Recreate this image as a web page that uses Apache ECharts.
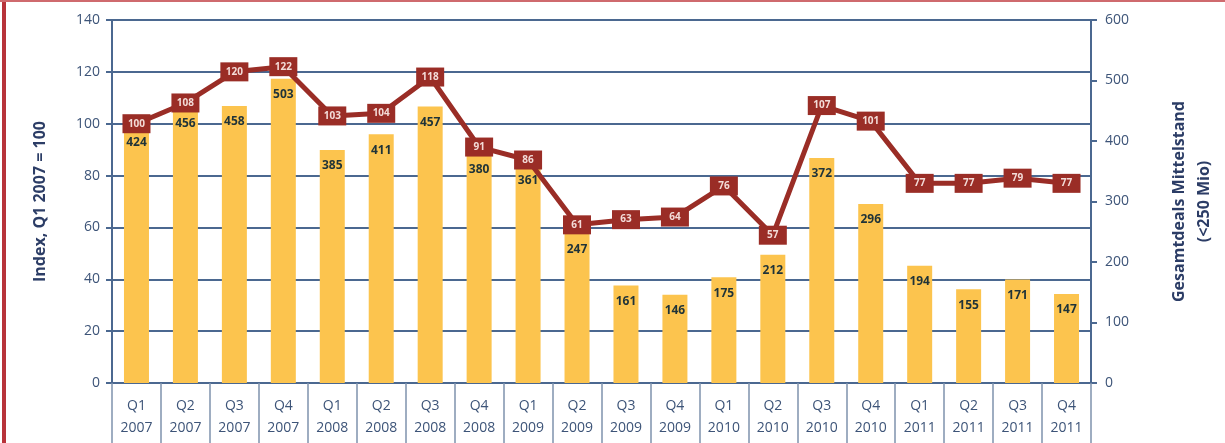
<!DOCTYPE html>
<html lang="de">
<head>
    <meta charset="UTF-8" />
    <title>Index Mittelstand</title>
    <script src="https://cdn.jsdelivr.net/npm/echarts@6/dist/echarts.min.js"></script>
    <style>
        html, body { margin: 0; padding: 0; background: #fff; }
        #main { width: 1225px; height: 443px; position: absolute; left: 0; top: 0; }
        .frame-left { position: absolute; left: 2px; top: 0; width: 4px; height: 443px; background: #b8333a; }
        .frame-top { position: absolute; left: 0; top: 0; width: 1225px; height: 2px; background: #cf6a6e; }
    </style>
</head>
<body>
    <div id="main"></div>
    <div class="frame-left"></div>
    <div class="frame-top"></div>

    <script>
        // Quartale
        const quarters = ['Q1\n2007', 'Q2\n2007', 'Q3\n2007', 'Q4\n2007',
            'Q1\n2008', 'Q2\n2008', 'Q3\n2008', 'Q4\n2008',
            'Q1\n2009', 'Q2\n2009', 'Q3\n2009', 'Q4\n2009',
            'Q1\n2010', 'Q2\n2010', 'Q3\n2010', 'Q4\n2010',
            'Q1\n2011', 'Q2\n2011', 'Q3\n2011', 'Q4\n2011'];
        // Gesamtdeals Mittelstand (rechte Achse)
        const deals = [424, 456, 458, 503, 385, 411, 457, 380, 361, 247,
            161, 146, 175, 212, 372, 296, 194, 155, 171, 147];
        // Index, Q1 2007 = 100 (linke Achse)
        const indexValues = [100, 108, 120, 122, 103, 104, 118, 91, 86, 61,
            63, 64, 76, 57, 107, 101, 77, 77, 79, 77];

        const axisColor = '#3d5478';
        const gridColor = '#4b6890';
        const font = 'Open Sans';

        var chartDom = document.getElementById('main');
        var myChart = echarts.init(chartDom);

        var option = {
            animation: false,
            textStyle: { fontFamily: font },
            grid: { left: 112, right: 112, top: 20, bottom: 60 },
            xAxis: {
                type: 'category',
                data: quarters,
                axisLine: { lineStyle: { color: gridColor, width: 2 } },
                axisTick: { show: true, length: 62, lineStyle: { color: '#7f93ad', width: 1.5 } },
                axisLabel: { color: axisColor, fontSize: 14, lineHeight: 22, margin: 12, interval: 0 }
            },
            yAxis: [
                {
                    type: 'value',
                    min: 0, max: 140, interval: 20,
                    name: 'Index, Q1 2007 = 100',
                    nameLocation: 'middle',
                    nameGap: 64,
                    nameRotate: 90,
                    nameTextStyle: { color: '#2c3d66', fontSize: 16, fontWeight: 'bold' },
                    axisLine: { show: true, lineStyle: { color: gridColor, width: 2 } },
                    axisTick: { show: true, length: 6, lineStyle: { color: gridColor, width: 2 } },
                    axisLabel: { color: axisColor, fontSize: 14, margin: 12 },
                    splitLine: { lineStyle: { color: gridColor, width: 2 } }
                },
                {
                    type: 'value',
                    min: 0, max: 600, interval: 100,
                    name: 'Gesamtdeals Mittelstand\n(<250 Mio)',
                    nameLocation: 'middle',
                    nameGap: 76,
                    nameRotate: 90,
                    nameTextStyle: { color: '#2c3d66', fontSize: 16, fontWeight: 'bold', lineHeight: 25 },
                    axisLine: { show: true, lineStyle: { color: gridColor, width: 2 } },
                    axisTick: { show: true, length: 6, lineStyle: { color: gridColor, width: 2 } },
                    axisLabel: { color: axisColor, fontSize: 14, margin: 14 },
                    splitLine: { show: false }
                }
            ],
            series: [
                {
                    type: 'bar',
                    yAxisIndex: 1,
                    data: deals,
                    barWidth: 25,
                    itemStyle: { color: '#fcc44e' },
                    label: {
                        show: true,
                        position: 'insideTop',
                        distance: 10,
                        color: '#1f3338',
                        fontSize: 12,
                        fontWeight: 'bold'
                    },
                    z: 2
                },
                {
                    type: 'line',
                    yAxisIndex: 0,
                    data: indexValues,
                    symbol: 'rect',
                    symbolSize: [28, 19],
                    lineStyle: { color: '#9a2d26', width: 5 },
                    itemStyle: { color: '#9a2d26' },
                    label: {
                        show: true,
                        position: 'inside',
                        color: '#f3dcd8',
                        fontSize: 10,
                        fontWeight: 'bold'
                    },
                    z: 5
                }
            ]
        };

        myChart.setOption(option);
    </script>
</body>
</html>
